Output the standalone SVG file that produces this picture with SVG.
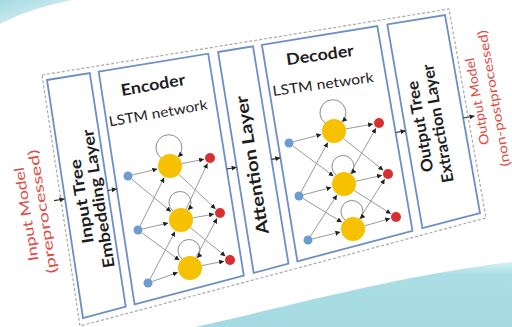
<svg xmlns="http://www.w3.org/2000/svg" width="512" height="327" viewBox="0 0 512 327">
<defs>
<style>
.box{fill:#fff;stroke:#6d8fc6;stroke-width:1.8}
.outer{fill:#fff;stroke:#a9a9a9;stroke-width:1.2;stroke-dasharray:3 2}
.lbl{font-family:Lato,"Liberation Sans",sans-serif;font-weight:700;fill:#1e1e1e;text-anchor:middle}
.sub{font-family:Lato,"Liberation Sans",sans-serif;font-weight:400;fill:#1e1e1e;text-anchor:middle}
.red{font-family:Lato,"Liberation Sans",sans-serif;font-weight:400;fill:#e04a44;text-anchor:middle}
.ln{stroke:#9a9a9a;stroke-width:1;fill:none;marker-end:url(#ah)}
.lp{stroke:#8a8a8a;stroke-width:1;fill:none;marker-end:url(#ah)}
.ar{stroke:#333;stroke-width:1.2;fill:none;marker-end:url(#ah)}
.yel{fill:#f6c100}
.blu{fill:#6c9dd0}
.rd{fill:#d83030}
</style>
<marker id="ah" viewBox="0 0 6 6" refX="6" refY="3" markerWidth="5" markerHeight="5" markerUnits="userSpaceOnUse" orient="auto"><path d="M0,0 L6,3 L0,6 z" fill="#222"/></marker>
<linearGradient id="tealg" x1="0" y1="0" x2="0" y2="1"><stop offset="0" stop-color="#d3f0f3"/><stop offset="0.2" stop-color="#aadde4"/><stop offset="1" stop-color="#a6dae2"/></linearGradient>
<linearGradient id="tealtl" x1="0" y1="0" x2="1" y2="1"><stop offset="0" stop-color="#a6dae2"/><stop offset="1" stop-color="#e6f6f8"/></linearGradient>
</defs>
<rect width="512" height="327" fill="#fff"/>
<path d="M0,0 L72,0 Q28,9 0,24 Z" fill="url(#tealtl)"/>
<path d="M195,327 C290,306 400,275 512,262 L512,327 Z" fill="url(#tealg)"/>

<g id="frame"><polygon class="outer" points="42,75 449,9 486,218 80,326"/></g>

<g id="input-label">
<text class="red" transform="translate(34,213) rotate(-99)" y="-8" dy="5" font-size="14" textLength="95" lengthAdjust="spacingAndGlyphs">Input Model</text>
<text class="red" transform="translate(34,213) rotate(-99)" y="8.5" dy="5" font-size="14" textLength="125" lengthAdjust="spacingAndGlyphs">(preprocessed)</text>
</g>

<g id="embedding">
<polygon class="box" points="47,80 89.8,73 125.7,306.7 83,318"/>
<text class="lbl" transform="translate(90,200) rotate(-99)" y="-8.5" dy="5.5" font-size="16" textLength="85" lengthAdjust="spacingAndGlyphs">Input Tree</text>
<text class="lbl" transform="translate(90,200) rotate(-99)" y="8.5" dy="5.5" font-size="16" textLength="140" lengthAdjust="spacingAndGlyphs">Embedding Layer</text>
</g>

<g id="encoder">
<polygon class="box" points="98.7,71.6 208.2,53.7 243.8,275.5 134.6,304.4"/>
<text class="lbl" transform="translate(153,85) rotate(-10)" dy="5.5" font-size="16" textLength="65" lengthAdjust="spacingAndGlyphs">Encoder</text>
<text class="sub" transform="translate(158,113) rotate(-10)" dy="5" font-size="14" textLength="100" lengthAdjust="spacingAndGlyphs">LSTM network</text>
</g>

<g id="attention">
<polygon class="box" points="218.1,52 253,46.4 288.5,263.7 253.7,272.9"/>
<text class="lbl" transform="translate(252,165) rotate(-99)" dy="6" font-size="17" textLength="140" lengthAdjust="spacingAndGlyphs">Attention Layer</text>
</g>

<g id="decoder">
<polygon class="box" points="261.9,44.9 377.3,26 412.5,230.9 297.4,261.3"/>
<text class="lbl" transform="translate(320,55) rotate(-8)" dy="5.5" font-size="16" textLength="68" lengthAdjust="spacingAndGlyphs">Decoder</text>
<text class="sub" transform="translate(323,84) rotate(-8)" dy="5" font-size="14" textLength="102" lengthAdjust="spacingAndGlyphs">LSTM network</text>
</g>

<g id="extraction">
<polygon class="box" points="387.3,24.4 445,15 480,213 422.4,228.2"/>
<text class="lbl" transform="translate(429,125) rotate(-100)" y="-9" dy="5.5" font-size="16" textLength="92" lengthAdjust="spacingAndGlyphs">Output Tree</text>
<text class="lbl" transform="translate(429,125) rotate(-100)" y="9" dy="5.5" font-size="16" textLength="120" lengthAdjust="spacingAndGlyphs">Extraction Layer</text>
</g>

<g id="output-label">
<text class="red" transform="translate(485,100) rotate(-100)" y="-8.5" dy="5" font-size="13" textLength="88" lengthAdjust="spacingAndGlyphs">Output Model</text>
<text class="red" transform="translate(485,100) rotate(-100)" y="8.5" dy="5" font-size="13" textLength="138" lengthAdjust="spacingAndGlyphs">(non-postprocessed)</text>
</g>

<g id="connectors">
<line class="ar" x1="54" y1="200.7" x2="64.5" y2="199"/>
<line class="ar" x1="107.7" y1="190.5" x2="116.7" y2="189"/>
<line class="ar" x1="226.7" y1="169" x2="236.6" y2="167.3"/>
<line class="ar" x1="271.4" y1="159.4" x2="280.3" y2="157.9"/>
<line class="ar" x1="395.6" y1="132.5" x2="405.6" y2="130.8"/>
<line class="ar" x1="463.2" y1="118" x2="474.5" y2="116"/>
<line class="ln" x1="132.4" y1="175" x2="157.4" y2="169"/>
<line class="ln" x1="131.5" y1="178.9" x2="171" y2="211.7"/>
<line class="ln" x1="140" y1="226" x2="164.2" y2="177.6"/>
<line class="ln" x1="142.4" y1="229" x2="168.3" y2="223"/>
<line class="ln" x1="141.6" y1="232.7" x2="179.5" y2="260.3"/>
<line class="ln" x1="150.1" y1="279" x2="175" y2="231.5"/>
<line class="ln" x1="152.2" y1="281.5" x2="177.8" y2="272.4"/>
<line class="ln" x1="181.8" y1="163.6" x2="204.1" y2="159.2"/>
<line class="ln" x1="178.7" y1="174.2" x2="215.6" y2="208.9"/>
<line class="ln" x1="186.1" y1="209.1" x2="207.5" y2="163.4"/>
<line class="ln" x1="192.8" y1="217.9" x2="214.1" y2="214.1"/>
<line class="ln" x1="190.3" y1="227.6" x2="225.4" y2="256.2"/>
<line class="ln" x1="195.7" y1="257.5" x2="217.1" y2="218.3"/>
<line class="ln" x1="201.8" y1="265.6" x2="224.1" y2="261.2"/>
<path class="lp" d="M161,158 A13,13 0 1 1 178,157"/>
<path class="lp" d="M173,211 A11,11 0 1 1 188,210"/>
<path class="lp" d="M182,259 A11,11 0 1 1 197,258"/>
<line class="ln" x1="293.3" y1="141.8" x2="321.4" y2="134.4"/>
<line class="ln" x1="292.6" y1="145.7" x2="333.6" y2="176.2"/>
<line class="ln" x1="301.1" y1="192" x2="327.8" y2="142.5"/>
<line class="ln" x1="303.3" y1="194.8" x2="331.4" y2="187.4"/>
<line class="ln" x1="302.8" y1="198.3" x2="341.9" y2="222.2"/>
<line class="ln" x1="310.4" y1="236.2" x2="337" y2="194.9"/>
<line class="ln" x1="312.4" y1="238.9" x2="340.4" y2="232.1"/>
<line class="ln" x1="345.8" y1="128.9" x2="373.1" y2="124.1"/>
<line class="ln" x1="343.4" y1="138.5" x2="383.3" y2="170.3"/>
<line class="ln" x1="350" y1="173.6" x2="376" y2="128.2"/>
<line class="ln" x1="355.7" y1="181.3" x2="382.1" y2="175.3"/>
<line class="ln" x1="354.1" y1="190.4" x2="390.9" y2="213.8"/>
<line class="ln" x1="359.4" y1="218.9" x2="384.8" y2="179.1"/>
<line class="ln" x1="364.6" y1="225.8" x2="390.2" y2="218.6"/>
<path class="lp" d="M325,123 A13,13 0 1 1 342,122"/>
<path class="lp" d="M336,175 A11,11 0 1 1 351,174"/>
<path class="lp" d="M345,220 A11,11 0 1 1 360,219"/>
</g>

<g id="encoder-cells">
<circle class="yel" cx="170" cy="166" r="12"/>
<circle class="yel" cx="181" cy="220" r="12"/>
<circle class="yel" cx="190" cy="268" r="12"/>
<circle class="blu" cx="128" cy="176" r="4.5"/>
<circle class="blu" cx="138" cy="230" r="4.5"/>
<circle class="blu" cx="148" cy="283" r="4.5"/>
<circle class="rd" cx="210" cy="158" r="5"/>
<circle class="rd" cx="220" cy="213" r="5"/>
<circle class="rd" cx="230" cy="260" r="5"/>
</g>
<g id="decoder-cells">
<circle class="yel" cx="334" cy="131" r="12"/>
<circle class="yel" cx="344" cy="184" r="12"/>
<circle class="yel" cx="353" cy="229" r="12"/>
<circle class="blu" cx="289" cy="143" r="4.5"/>
<circle class="blu" cx="299" cy="196" r="4.5"/>
<circle class="blu" cx="308" cy="240" r="4.5"/>
<circle class="rd" cx="379" cy="123" r="5"/>
<circle class="rd" cx="388" cy="174" r="5"/>
<circle class="rd" cx="396" cy="217" r="5"/>
</g>
</svg>
